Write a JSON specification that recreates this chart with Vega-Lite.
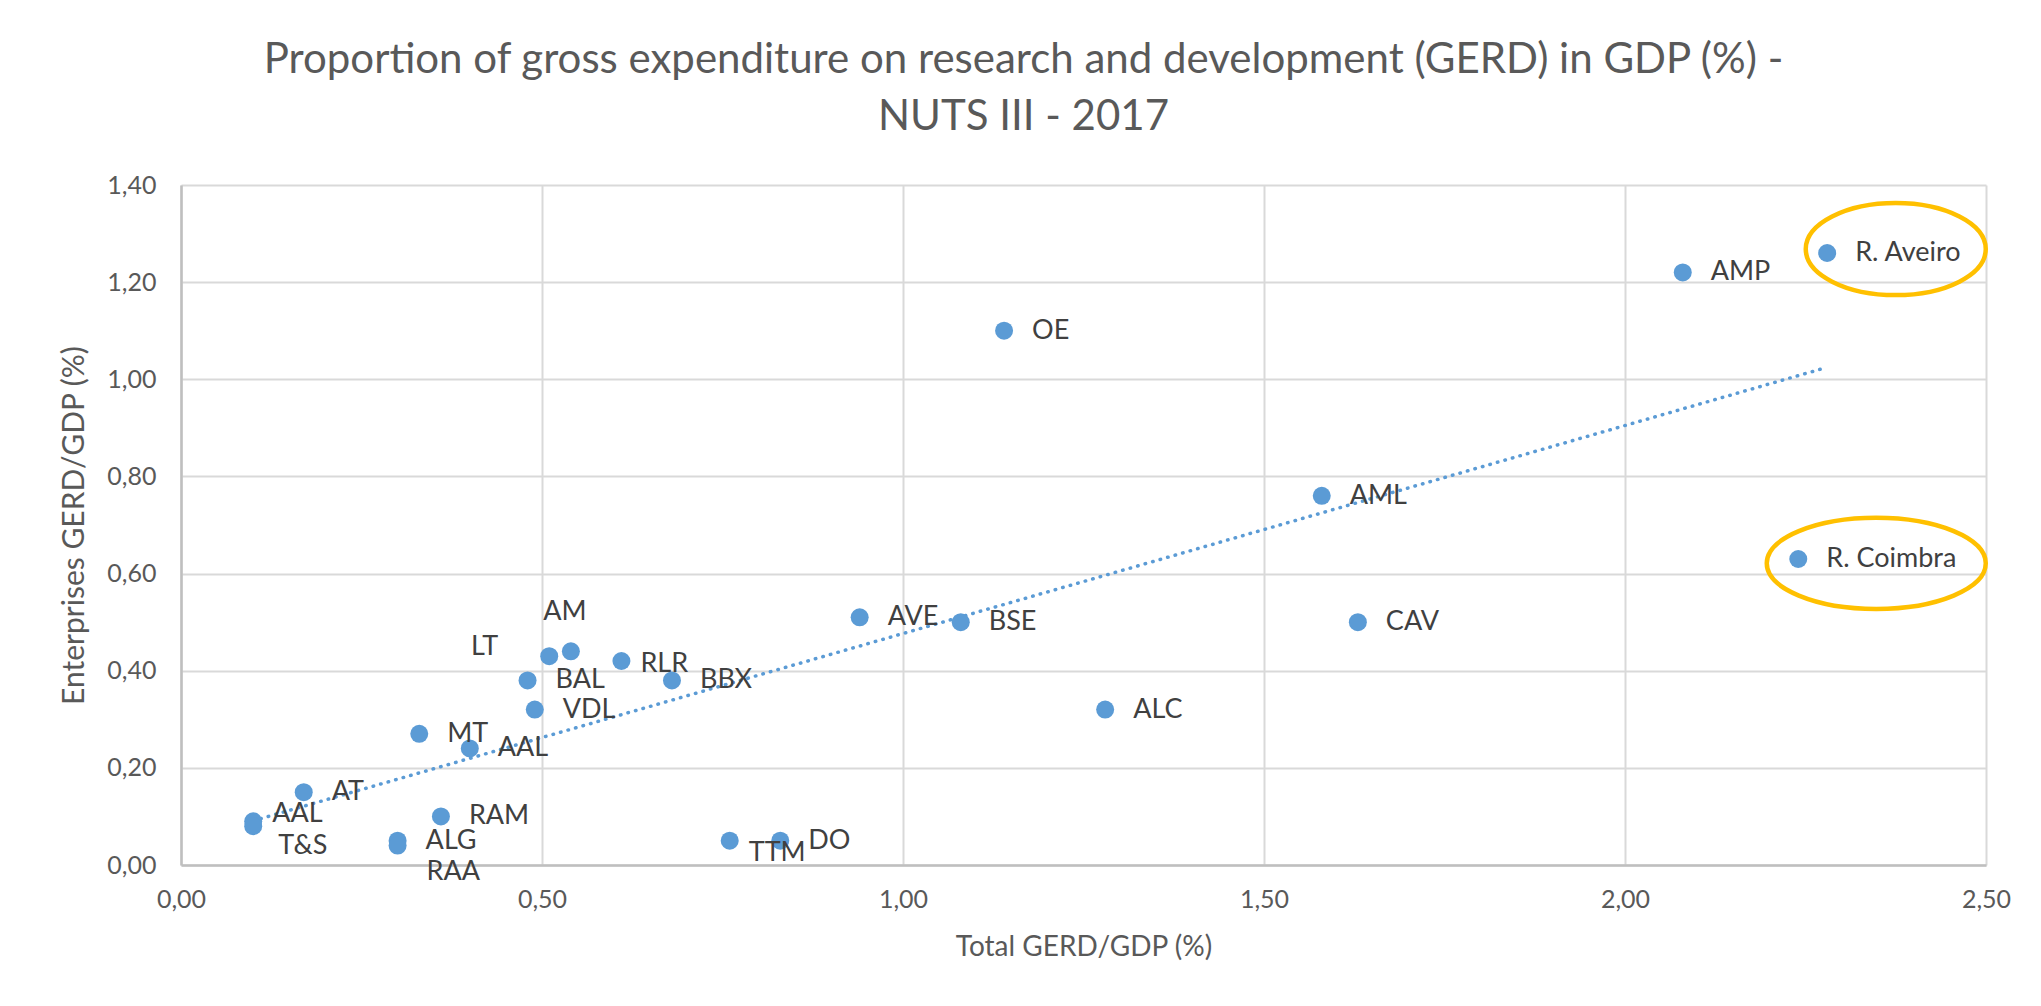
{
  "$schema": "https://vega.github.io/schema/vega-lite/v6.json",
  "width": 1805,
  "height": 680,
  "autosize": {"type": "none"},
  "padding": {"left": 181, "top": 185, "right": 55, "bottom": 141},
  "background": "white",
  "title": {
    "text": ["Proportion of gross expenditure on research and development (GERD) in GDP (%) -", "NUTS III - 2017"],
    "font": "Lato",
    "fontSize": 42,
    "fontWeight": "normal",
    "color": "#595959",
    "lineHeight": 57,
    "anchor": "middle",
    "frame": "group",
    "dx": -60,
    "offset": 34
  },
  "config": {
    "view": {"stroke": null},
    "axis": {
      "labelFont": "Lato",
      "labelFontSize": 25,
      "labelColor": "#595959",
      "titleFont": "Lato",
      "titleFontSize": 28,
      "titleFontWeight": "normal",
      "titleColor": "#595959",
      "gridColor": "#D9D9D9",
      "gridWidth": 2,
      "domainColor": "#BFBFBF",
      "domainWidth": 2.5,
      "ticks": false
    }
  },
  "datasets": {
    "regions": [
      {"name": "AAL", "x": 0.10, "y": 0.09},
      {"name": "T&S", "x": 0.10, "y": 0.08},
      {"name": "AT", "x": 0.17, "y": 0.15},
      {"name": "MT", "x": 0.33, "y": 0.27},
      {"name": "AAL", "x": 0.40, "y": 0.24},
      {"name": "RAM", "x": 0.36, "y": 0.10},
      {"name": "ALG", "x": 0.30, "y": 0.05},
      {"name": "RAA", "x": 0.30, "y": 0.04},
      {"name": "LT", "x": 0.51, "y": 0.43},
      {"name": "AM", "x": 0.54, "y": 0.44},
      {"name": "BAL", "x": 0.48, "y": 0.38},
      {"name": "VDL", "x": 0.49, "y": 0.32},
      {"name": "RLR", "x": 0.61, "y": 0.42},
      {"name": "BBX", "x": 0.68, "y": 0.38},
      {"name": "TTM", "x": 0.76, "y": 0.05},
      {"name": "DO", "x": 0.83, "y": 0.05},
      {"name": "AVE", "x": 0.94, "y": 0.51},
      {"name": "BSE", "x": 1.08, "y": 0.50},
      {"name": "OE", "x": 1.14, "y": 1.10},
      {"name": "ALC", "x": 1.28, "y": 0.32},
      {"name": "AML", "x": 1.58, "y": 0.76},
      {"name": "CAV", "x": 1.63, "y": 0.50},
      {"name": "AMP", "x": 2.08, "y": 1.22},
      {"name": "R. Aveiro", "x": 2.28, "y": 1.26},
      {"name": "R. Coimbra", "x": 2.24, "y": 0.63}
    ],
    "highlights": [
      {"name": "R. Aveiro", "x": 2.375, "y": 1.268},
      {"name": "R. Coimbra", "x": 2.348, "y": 0.621}
    ]
  },
  "encoding": {
    "x": {
      "field": "x",
      "type": "quantitative",
      "scale": {"domain": [0, 2.5], "nice": false, "zero": false},
      "axis": {
        "title": "Total GERD/GDP (%)",
        "values": [0, 0.5, 1, 1.5, 2, 2.5],
        "labelExpr": "replace(format(datum.value, '.2f'), '.', ',')",
        "labelPadding": 22,
        "titlePadding": 21,
        "labelFlush": false
      }
    },
    "y": {
      "field": "y",
      "type": "quantitative",
      "scale": {"domain": [0, 1.4], "nice": false, "zero": false},
      "axis": {
        "title": "Enterprises GERD/GDP (%)",
        "titleFontSize": 30,
        "values": [0, 0.2, 0.4, 0.6, 0.8, 1, 1.2, 1.4],
        "labelExpr": "replace(format(datum.value, '.2f'), '.', ',')",
        "labelPadding": 25,
        "titlePadding": 17,
        "labelFlush": false
      }
    }
  },
  "layer": [
    {
      "data": {"name": "regions"},
      "transform": [{"regression": "y", "on": "x"}],
      "mark": {"type": "line", "color": "#5B9BD5", "strokeWidth": 3.5, "strokeDash": [0.5, 7.3], "strokeCap": "round"}
    },
    {
      "data": {"name": "regions"},
      "mark": {"type": "point", "shape": "circle", "filled": true, "size": 324, "color": "#5B9BD5", "opacity": 1}
    },
    {
      "data": {"name": "regions"},
      "transform": [{"filter": "indexof(['T&S','RAA','LT','AM','RLR','TTM'], datum.name) < 0 && !(datum.name === 'AAL' && datum.x < 0.2)"}],
      "mark": {"type": "text", "align": "left", "baseline": "middle", "dx": 28, "font": "Lato", "fontSize": 27, "color": "#404040"},
      "encoding": {"text": {"field": "name"}}
    },
    {
      "data": {"name": "regions"},
      "transform": [{"filter": "datum.name === 'AAL' && datum.x < 0.2"}],
      "mark": {"type": "text", "align": "left", "baseline": "middle", "dx": 19, "dy": -7, "font": "Lato", "fontSize": 27, "color": "#404040"},
      "encoding": {"text": {"field": "name"}}
    },
    {
      "data": {"name": "regions"},
      "transform": [{"filter": "datum.name === 'RLR'"}],
      "mark": {"type": "text", "align": "left", "baseline": "middle", "dx": 19, "dy": 3, "font": "Lato", "fontSize": 27, "color": "#404040"},
      "encoding": {"text": {"field": "name"}}
    },
    {
      "data": {"name": "regions"},
      "transform": [{"filter": "datum.name === 'TTM'"}],
      "mark": {"type": "text", "align": "left", "baseline": "middle", "dx": 19, "dy": 12, "font": "Lato", "fontSize": 27, "color": "#404040"},
      "encoding": {"text": {"field": "name"}}
    },
    {
      "data": {"name": "regions"},
      "transform": [{"filter": "datum.name === 'T&S'"}],
      "mark": {"type": "text", "align": "left", "baseline": "middle", "dx": 25, "dy": 20, "font": "Lato", "fontSize": 27, "color": "#404040"},
      "encoding": {"text": {"field": "name"}}
    },
    {
      "data": {"name": "regions"},
      "transform": [{"filter": "datum.name === 'RAA'"}],
      "mark": {"type": "text", "align": "left", "baseline": "middle", "dx": 29, "dy": 26, "font": "Lato", "fontSize": 27, "color": "#404040"},
      "encoding": {"text": {"field": "name"}}
    },
    {
      "data": {"name": "regions"},
      "transform": [{"filter": "datum.name === 'LT'"}],
      "mark": {"type": "text", "align": "right", "baseline": "middle", "dx": -51, "dy": -9, "font": "Lato", "fontSize": 27, "color": "#404040"},
      "encoding": {"text": {"field": "name"}}
    },
    {
      "data": {"name": "regions"},
      "transform": [{"filter": "datum.name === 'AM'"}],
      "mark": {"type": "text", "align": "center", "baseline": "middle", "dx": -6, "dy": -39, "font": "Lato", "fontSize": 27, "color": "#404040"},
      "encoding": {"text": {"field": "name"}}
    },
    {
      "data": {"name": "highlights"},
      "transform": [{"filter": "datum.name === 'R. Aveiro'"}],
      "mark": {"type": "point", "filled": false, "shape": "M -1 0 A 1 0.511 0 1 1 1 0 A 1 0.511 0 1 1 -1 0 Z", "size": 32400, "stroke": "#FFC000", "strokeWidth": 4.5, "opacity": 1}
    },
    {
      "data": {"name": "highlights"},
      "transform": [{"filter": "datum.name === 'R. Coimbra'"}],
      "mark": {"type": "point", "filled": false, "shape": "M -1 0 A 1 0.416 0 1 1 1 0 A 1 0.416 0 1 1 -1 0 Z", "size": 47961, "stroke": "#FFC000", "strokeWidth": 4.5, "opacity": 1}
    }
  ]
}
